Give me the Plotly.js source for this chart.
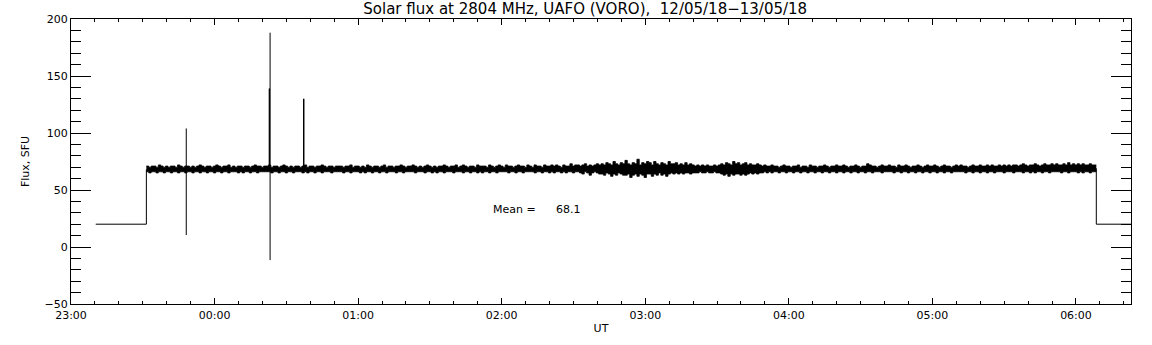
<!DOCTYPE html>
<html>
<head>
<meta charset="utf-8">
<script src="https://cdn.plot.ly/plotly-3.0.1.min.js"></script>
<style>html,body{margin:0;padding:0;background:#fff;}#chart{width:1152px;height:345px;}</style>
</head>
<body>
<div id="chart"></div>
<script>
// ---- data ----
const chartTitle = 'Solar flux at 2804 MHz, UAFO (VORO),  12/05/18\u221213/05/18';
const xTitle = 'UT';
const yTitle = 'Flux, SFU';
const meanFlux = 68.1;

// calibration level before the observation
const headTimes = ['2018-05-12 23:10:20', '2018-05-12 23:31:30', '2018-05-12 23:31:30'];
const headFlux = [20, 20, 68];

// calibration level after the observation
const tailTimes = ['2018-05-13 06:08:30', '2018-05-13 06:08:30', '2018-05-13 06:23:00'];
const tailFlux = [69, 20, 20];

// observed flux: per-minute maximum and minimum, from 23:31:30 UT
const bandStart = '2018-05-12 23:31:30';
const bandMax = [
  71,70,71,71,70,72,71,70,71,70,
  71,71,70,72,71,70,71,71,70,71,
  70,71,72,71,70,71,71,70,71,72,
  71,70,71,71,72,70,71,70,71,71,
  70,71,71,70,71,72,71,71,70,71,
  71,72,70,71,71,70,71,72,71,70,
  71,70,71,71,70,71,72,70,71,71,
  70,71,71,72,71,70,71,71,70,71,
  71,71,70,71,71,72,70,71,71,70,
  71,70,72,71,70,71,71,70,71,72,
  70,71,71,70,71,71,72,71,70,71,
  71,72,71,70,71,70,71,72,71,70,
  71,70,71,71,72,71,70,71,71,72,
  70,71,72,71,70,71,71,70,72,71,
  71,71,70,72,71,70,71,72,71,70,
  72,71,71,70,71,72,71,71,70,72,
  71,70,72,71,71,70,72,71,71,72,
  71,72,71,70,72,71,71,73,71,72,
  72,71,72,73,71,72,71,72,73,72,
  73,72,74,73,72,75,73,72,74,73,
  76,73,72,74,73,77,72,74,73,75,
  74,72,75,73,72,74,73,72,75,73,
  73,74,72,73,72,74,72,73,72,71,
  72,71,72,71,72,71,71,72,71,72,
  73,72,74,73,72,75,73,74,72,73,
  74,72,73,72,72,73,72,71,72,71,
  71,72,71,71,70,71,72,71,71,70,
  71,71,72,70,71,71,70,72,71,71,
  70,71,71,72,71,70,71,71,72,71,
  71,72,71,70,71,71,72,71,70,71,
  71,73,72,71,71,70,71,72,71,71,
  72,71,71,70,72,71,71,72,71,70,
  71,71,72,71,70,71,72,71,71,72,
  71,70,71,72,71,71,70,71,72,71,
  72,71,71,70,71,72,71,71,72,71,
  71,72,71,72,71,71,72,71,72,71,
  72,71,72,72,71,72,73,72,71,72,
  72,73,72,71,72,73,72,72,73,72,
  73,72,72,73,72,74,72,73,72,73,
  72,73,72,72,73,72,72,72
];
const bandMin = [
  66,65,66,66,65,66,66,65,66,66,
  65,66,66,65,66,66,65,66,66,65,
  66,66,65,66,66,65,66,66,65,66,
  66,65,66,66,65,66,66,66,65,66,
  65,66,66,65,66,66,65,66,66,66,
  66,66,65,66,66,65,66,66,65,66,
  66,65,66,66,66,65,66,65,66,66,
  65,66,66,65,66,66,66,65,66,66,
  66,66,65,66,66,65,66,66,66,65,
  66,65,66,66,65,66,66,65,66,66,
  65,66,66,66,65,66,66,65,66,66,
  66,66,65,66,66,66,65,66,66,65,
  66,65,66,66,65,66,66,66,65,66,
  66,66,65,66,66,65,66,66,65,66,
  65,66,66,65,66,66,65,66,66,66,
  66,65,66,66,65,66,66,65,66,66,
  66,66,65,66,66,65,66,66,65,66,
  65,66,66,65,66,65,66,66,65,66,
  66,65,64,66,65,63,65,66,65,64,
  64,63,65,64,62,64,63,65,64,63,
  63,64,61,63,64,62,64,63,61,64,
  64,62,64,63,65,63,64,62,64,65,
  64,65,64,65,64,65,65,64,65,65,
  65,66,65,65,66,65,65,66,65,65,
  64,63,64,62,64,63,64,64,63,64,
  63,64,65,64,65,64,65,65,66,65,
  66,65,66,66,65,66,66,65,66,66,
  65,66,66,65,66,66,65,66,66,65,
  66,66,65,66,66,65,66,66,65,66,
  66,65,66,66,65,66,66,65,66,66,
  65,66,66,65,66,66,66,65,66,66,
  66,66,65,66,66,65,66,66,65,66,
  66,65,66,66,65,66,66,65,66,66,
  65,66,66,65,66,66,65,66,66,66,
  66,66,65,66,66,65,66,66,65,66,
  66,65,66,66,65,66,66,66,65,66,
  66,66,65,66,66,66,65,66,66,65,
  66,65,66,66,65,66,66,65,66,66,
  66,66,65,66,66,65,66,66,66,65,
  66,65,66,66,65,66,66,66
];

// short bursts / interference spikes
const spikeTimes = ['2018-05-12 23:48:10', '2018-05-13 00:22:50', '2018-05-13 00:23:00', '2018-05-13 00:23:12', '2018-05-13 00:37:10', '2018-05-13 00:37:22'];
const spikeLow  = [10.5, 68, 68, -11.5, 68, 68];
const spikeHigh = [104, 139, 139, 188, 130, 130];

const xRange = ['2018-05-12 23:00:00', '2018-05-13 06:23:00'];
const yRange = [-50, 200];

// ---- build traces ----
function fmt(ms) { return new Date(ms).toISOString().slice(0, 19).replace('T', ' '); }
const t0 = Date.parse(bandStart.replace(' ', 'T') + 'Z');
const bandTimes = bandMax.map((_, i) => fmt(t0 + i * 60000));

const sx = [], sy = [];
spikeTimes.forEach((t, i) => { sx.push(t, t, null); sy.push(spikeLow[i], spikeHigh[i], null); });

const FONT = 'DejaVu Sans, sans-serif';
const traces = [
  { x: bandTimes, y: bandMin, type: 'scatter', mode: 'lines', line: { color: '#000', width: 0.8, shape: 'hv' }, hoverinfo: 'skip' },
  { x: bandTimes, y: bandMax, type: 'scatter', mode: 'lines', fill: 'tonexty', fillcolor: '#000', line: { color: '#000', width: 0.8, shape: 'hv' }, hoverinfo: 'skip' },
  { x: headTimes, y: headFlux, type: 'scatter', mode: 'lines', line: { color: '#000', width: 1 }, hoverinfo: 'skip' },
  { x: tailTimes, y: tailFlux, type: 'scatter', mode: 'lines', line: { color: '#000', width: 1 }, hoverinfo: 'skip' },
  { x: sx, y: sy, type: 'scatter', mode: 'lines', line: { color: '#000', width: 1 }, connectgaps: false, hoverinfo: 'skip' }
];

const layout = {
  width: 1152, height: 345,
  margin: { l: 71, r: 21, t: 19, b: 41 },
  paper_bgcolor: '#fff', plot_bgcolor: '#fff',
  showlegend: false,
  font: { family: FONT, size: 11, color: '#000' },
  title: { text: chartTitle, font: { family: FONT, size: 15, color: '#000' }, x: 0.508, xref: 'container', xanchor: 'center', y: 0.975, yref: 'container', yanchor: 'middle' },
  xaxis: {
    type: 'date', range: xRange, tickformat: '%H:%M', tick0: '2018-05-12 23:00:00', dtick: 3600000,
    ticks: 'inside', ticklen: 6, tickwidth: 1, tickcolor: '#000', ticklabelstandoff: 1,
    minor: { dtick: 600000, ticks: 'inside', ticklen: 3, tickwidth: 1, tickcolor: '#000', showgrid: false },
    showline: true, linecolor: '#000', linewidth: 1, mirror: 'allticks',
    showgrid: false, zeroline: false,
    tickfont: { family: FONT, size: 11, color: '#000' },
    title: { text: xTitle, font: { family: FONT, size: 11, color: '#000' }, standoff: 3 }
  },
  yaxis: {
    range: yRange, tick0: 0, dtick: 50,
    ticks: 'inside', ticklen: 20, tickwidth: 1, tickcolor: '#000',
    minor: { dtick: 10, ticks: 'inside', ticklen: 10, tickwidth: 1, tickcolor: '#000', showgrid: false },
    showline: true, linecolor: '#000', linewidth: 1, mirror: 'allticks',
    showgrid: false, zeroline: false,
    tickfont: { family: FONT, size: 11, color: '#000' },
    title: { text: yTitle, font: { family: FONT, size: 11, color: '#000' }, standoff: 12 }
  },
  annotations: [
    { x: '2018-05-13 01:55:30', y: 32.5, xref: 'x', yref: 'y', text: 'Mean =', showarrow: false, xanchor: 'left', yanchor: 'middle', font: { family: FONT, size: 11, color: '#000' } },
    { x: '2018-05-13 02:21:50', y: 32.5, xref: 'x', yref: 'y', text: meanFlux.toFixed(1), showarrow: false, xanchor: 'left', yanchor: 'middle', font: { family: FONT, size: 11, color: '#000' } }
  ]
};

Plotly.newPlot('chart', traces, layout, { staticPlot: true, displayModeBar: false });
</script>
</body>
</html>
